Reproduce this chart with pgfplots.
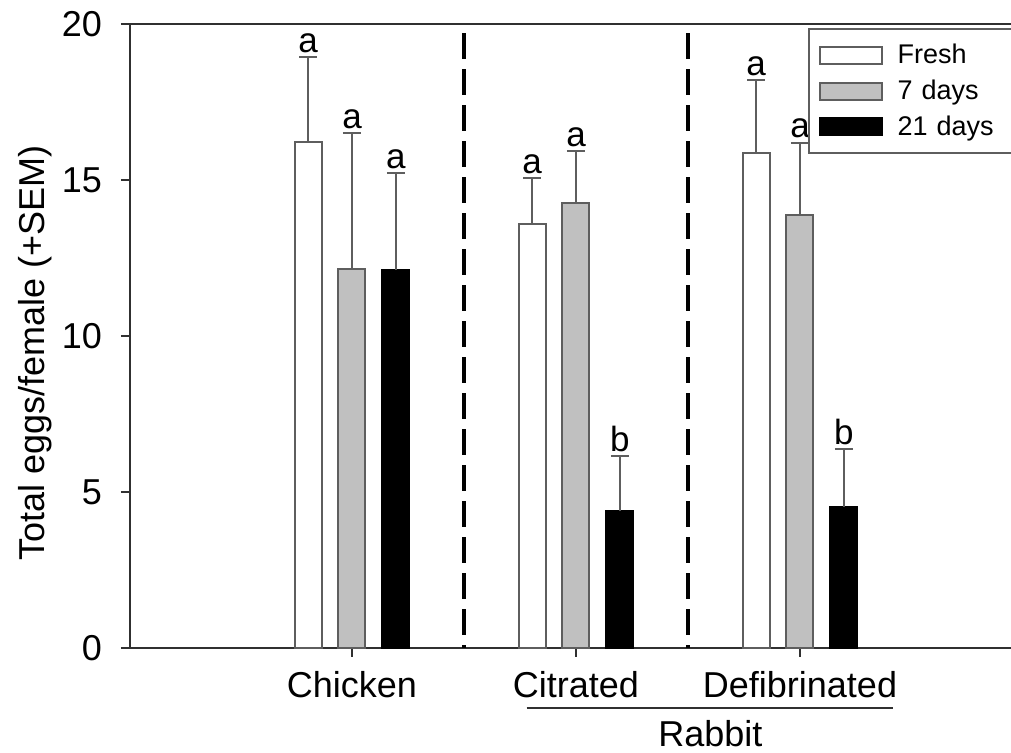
\documentclass[border=0pt]{standalone}
\usepackage{fontspec}
\setmainfont{Liberation Sans}
\usepackage{pgfplots}
\usepackage{pgfplotstable}
\pgfplotsset{compat=1.18}

\definecolor{edge}{HTML}{5E5E5E}
\definecolor{midgray}{HTML}{C0C0C0}
\definecolor{axisgray}{HTML}{303030}

% x = group position (0 Chicken, 1 Citrated, 2 Defibrinated) + bar offset
\pgfplotstableread{
x       y      err
-0.196  16.22  2.72
 0.804  13.60  1.46
 1.804  15.86  2.34
}\fresh
\pgfplotstableread{
x       y      err
 0.000  12.15  4.35
 1.000  14.26  1.67
 2.000  13.88  2.32
}\sevendays
\pgfplotstableread{
x       y      err
 0.196  12.12  3.10
 1.196   4.39  1.76
 2.196   4.52  1.86
}\twentyone

\begin{document}
\begin{tikzpicture}
\begin{axis}[
  scale only axis, width=440.5pt, height=312pt,
  xmin=-0.991, xmax=2.942, ymin=0, ymax=20,
  axis x line*=bottom, axis y line*=left,
  axis line style={axisgray, line width=1pt},
  tick style={axisgray, line width=1pt},
  tick align=outside, major tick length=4.5pt,
  xtick={0,1,2}, xticklabels={Chicken,Citrated,Defibrinated},
  ytick={0,5,10,15,20},
  /pgf/number format/assume math mode=true,
  ticklabel style={font=\fontsize{18}{21}\selectfont},
  xticklabel style={yshift=-3.5pt},
  yticklabel style={xshift=-6pt},
  ybar, bar width=13.5pt, bar shift=0pt,
  clip=false,
  legbox/.style={legend image code/.code={
      \draw[##1, line width=0.8pt] (0pt,-4.25pt) rectangle (31pt,4.25pt);}},
  legend style={at={(rel axis cs:0.7696,0.993)}, anchor=north west,
    draw=edge, line width=1pt, fill=white,
    font=\fontsize{13.5}{16}\selectfont,
    nodes={inner sep=1.5pt}, row sep=3.5pt,
    inner xsep=5pt, inner ysep=6pt,
    /tikz/every odd column/.append style={column sep=6pt},
    /tikz/every even column/.append style={text width=62pt}},
  legend cell align=left,
  error bars/y dir=plus, error bars/y explicit,
  error bars/error mark=-,
  error bars/error bar style={edge, line width=1pt},
  error bars/error mark options={edge, line width=1pt, mark size=4.5pt, rotate=90},
]
\addplot[legbox, draw=edge, fill=white, line width=1pt]
  table[x=x, y=y, y error=err] {\fresh};
\addlegendentry{Fresh}
\addplot[legbox, draw=edge, fill=midgray, line width=1pt]
  table[x=x, y=y, y error=err] {\sevendays};
\addlegendentry{7 days}
\addplot[legbox, draw=black, fill=black, line width=1pt]
  table[x=x, y=y, y error=err] {\twentyone};
\addlegendentry{21 days}

% top frame line
\draw[axisgray, line width=1pt] (rel axis cs:0,1) -- (rel axis cs:1,1);

% group separators
\draw[black, line width=1.6pt, dash pattern=on 13pt off 5pt]
  (axis cs:0.5,19.7) -- (axis cs:0.5,0);
\draw[black, line width=1.6pt, dash pattern=on 13pt off 5pt]
  (axis cs:1.5,19.7) -- (axis cs:1.5,0);

% significance letters above the error caps
\begin{scope}[every node/.style={anchor=south, inner sep=2pt,
    font=\fontsize{17.5}{20}\selectfont}]
  \node at (axis cs:-0.196,18.94) {a};
  \node at (axis cs:0.000,16.50) {a};
  \node at (axis cs:0.196,15.22) {a};
  \node at (axis cs:0.804,15.06) {a};
  \node at (axis cs:1.000,15.93) {a};
  \node at (axis cs:1.196,6.15) {b};
  \node at (axis cs:1.804,18.20) {a};
  \node at (axis cs:2.000,16.20) {a};
  \node at (axis cs:2.196,6.38) {b};
\end{scope}

% y axis title
\node[rotate=90, font=\fontsize{18}{21}\selectfont]
  at ([xshift=-47.5pt]rel axis cs:0,0.473) {Total eggs/female (+SEM)};

% Rabbit grouping bracket
\draw[axisgray, line width=0.9pt]
  ([yshift=-30pt]axis cs:0.78,0) -- ([yshift=-30pt]axis cs:2.415,0);
\node[font=\fontsize{18}{21}\selectfont]
  at ([yshift=-43pt]axis cs:1.6,0) {Rabbit};
\end{axis}
\pgfresetboundingbox
\useasboundingbox (-65pt,-52.5pt) rectangle (440.5pt,324pt);
\end{tikzpicture}
\end{document}
